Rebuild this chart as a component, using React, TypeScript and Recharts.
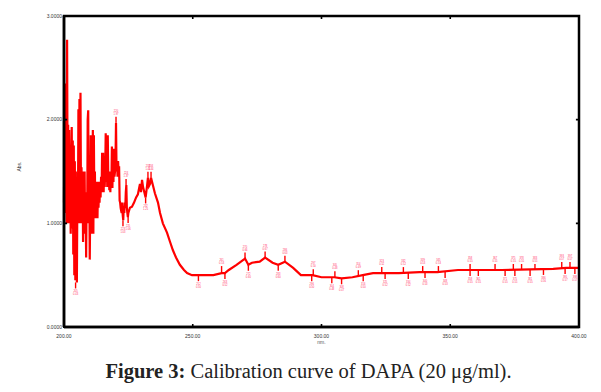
import React from 'react';
import { ComposedChart, Line, Scatter, XAxis, YAxis } from 'recharts';

const wavelengths = [
  200.0, 200.2, 200.4, 200.6, 200.8, 201.0, 201.2, 201.4, 201.6, 201.8, 202.0, 202.2, 202.4, 202.6, 202.8,
  203.0, 203.2, 203.4, 203.6, 203.8, 204.0, 204.2, 204.4, 204.6, 204.8, 205.0, 205.2, 205.4, 205.6, 205.8,
  206.0, 206.2, 206.4, 206.6, 206.8, 207.0, 207.2, 207.4, 207.6, 207.8, 208.0, 208.2, 208.4, 208.6, 208.8,
  209.0, 209.2, 209.4, 209.6, 209.8, 210.0, 210.2, 210.4, 210.6, 210.8, 211.0, 211.2, 211.4, 211.6, 211.8,
  212.0, 212.2, 212.4, 212.6, 212.8, 213.0, 213.2, 213.4, 213.6, 213.8, 214.0, 214.2, 214.4, 214.6, 214.8,
  215.0, 215.2, 215.4, 215.6, 215.8, 216.0, 216.2, 216.4, 216.6, 216.8, 217.0, 217.2, 217.4, 217.6, 217.8,
  218.0, 218.2, 218.4, 218.6, 218.8, 219.0, 219.2, 219.4, 219.6, 219.8, 220.0, 220.2, 220.4, 220.6, 220.8,
  221.0, 221.2, 221.4, 221.6, 221.8, 222.0, 222.2, 222.4, 222.6, 222.8, 223.0, 223.2, 223.4, 223.6, 223.8,
  224.0, 224.2, 224.4, 224.6, 224.8, 225.0,
  225.6, 226.4, 227.2, 228.0, 228.7, 229.5, 229.9, 230.3, 230.7,
  231.7, 232.2, 232.6, 233.0, 233.4, 233.8, 234.6, 235.3, 236.5, 237.3, 238.4, 240.0, 241.2, 242.3, 243.5,
  245.0, 246.6, 247.8, 249.7, 252.2, 254.0, 258.0, 261.2, 262.5, 264.0, 267.0, 270.3, 271.6, 273.0, 276.0,
  278.1, 281.0, 283.2, 285.8, 289.0, 292.0, 296.5, 300.0, 305.0, 307.8, 312.0, 316.0, 320.0, 330.0, 338.0,
  345.0, 353.0, 370.0, 390.0, 395.0, 400.0,
];
const absorbance = [
  1.2, 2.3, 1.1, 2.35, 1.5, 1.0, 2.77, 1.3, 1.95, 1.0, 1.9, 1.1, 1.7, 0.9, 1.6,
  1.93, 0.95, 1.8, 0.7, 1.75, 0.5, 1.6, 0.45, 1.5, 0.6, 0.43, 1.3, 1.0, 2.1, 1.1,
  2.2, 1.0, 2.26, 1.2, 1.54, 1.0, 1.5, 0.82, 1.45, 1.0, 1.5, 0.9, 1.2, 0.67, 1.3,
  1.0, 2.0, 2.09, 1.0, 1.6, 0.65, 1.2, 1.85, 0.9, 1.85, 1.0, 1.9, 0.9, 1.85, 1.1,
  1.5, 1.05, 1.4, 1.1, 1.35, 1.05, 1.4, 1.15, 1.35, 1.2, 1.4, 1.25, 1.45, 1.3, 1.68,
  1.35, 1.68, 1.3, 1.65, 1.35, 1.5, 1.87, 1.4, 1.85, 1.35, 1.85, 1.4, 1.5, 1.32, 1.48,
  1.3, 1.5, 1.35, 1.74, 1.34, 1.72, 1.4, 1.72, 1.45, 1.5, 1.6, 1.97, 1.5, 1.6, 1.45,
  1.6, 1.5, 1.55, 1.22, 1.2, 1.15, 1.12, 1.1, 1.2, 1.08, 1.03, 1.15, 1.1, 1.2, 1.15,
  1.3, 1.37, 1.15, 1.1, 1.06, 1.1,
  1.15, 1.16, 1.2, 1.25, 1.28, 1.38, 1.3, 1.42, 1.35,
  1.25, 1.35, 1.44, 1.36, 1.38, 1.44, 1.36, 1.29, 1.2, 1.1, 1.0, 0.91, 0.82, 0.74, 0.67,
  0.6, 0.55, 0.52, 0.5, 0.5, 0.5, 0.5, 0.52, 0.52, 0.55, 0.6, 0.66, 0.6, 0.62, 0.63,
  0.67, 0.62, 0.6, 0.63, 0.57, 0.5, 0.5, 0.48, 0.48, 0.47, 0.48, 0.5, 0.52, 0.52, 0.53,
  0.53, 0.55, 0.55, 0.56, 0.57, 0.57,
];

const peakNm = [220.2, 224.1, 232.6, 233.8, 261.2, 270.3, 278.1, 285.8, 296.8, 305.2, 314.3, 323.4, 331.8, 339.3, 345.4, 357.7, 367.4, 374.5, 377.7, 382.9, 393.3, 396.5];
const peakAbs = [1.97, 1.37, 1.44, 1.44, 0.53, 0.66, 0.67, 0.63, 0.5, 0.48, 0.49, 0.52, 0.52, 0.53, 0.53, 0.55, 0.55, 0.55, 0.55, 0.55, 0.57, 0.57];
const valleyNm = [204.5, 222.9, 224.9, 231.7, 252.2, 262.5, 271.6, 283.2, 296.2, 304.0, 307.8, 316.2, 324.7, 333.7, 340.2, 348.0, 357.7, 360.9, 371.3, 375.1, 381.0, 386.2, 394.6, 398.4];
const valleyAbs = [0.43, 1.03, 1.06, 1.25, 0.5, 0.52, 0.6, 0.6, 0.5, 0.48, 0.47, 0.5, 0.52, 0.52, 0.53, 0.53, 0.55, 0.55, 0.55, 0.55, 0.55, 0.56, 0.57, 0.57];

const xTicks = [200, 250, 300, 350, 400];
const yTicks = [0, 1, 2, 3];
const xTitle = 'nm.';
const yTitle = 'Abs.';
const caption = 'Calibration curve of DAPA (20 μg/ml).';

const X_MIN = 200;
const X_MAX = 400;
const Y_MIN = 0;
const Y_MAX = 3;
const tickLenX = 1.2;
const tickLenY = 0.03;

const lineData = wavelengths.map((x, i) => ({ x, y: absorbance[i] }));
const peaks = peakNm.map((x, i) => ({ x, y: peakAbs[i] }));
const valleys = valleyNm.map((x, i) => ({ x, y: valleyAbs[i] }));

const frameData = [
  { x: X_MIN, y: Y_MIN },
  { x: X_MAX, y: Y_MIN },
  { x: X_MAX, y: Y_MAX },
  { x: X_MIN, y: Y_MAX },
  { x: X_MIN, y: Y_MIN },
];
const innerX = xTicks.slice(1, -1);
const innerY = yTicks.slice(1, -1);
const tickMarkData: { x: number; y: number | null }[] = [];
innerX.forEach((t) => {
  tickMarkData.push({ x: t, y: Y_MIN }, { x: t, y: Y_MIN + tickLenY }, { x: t, y: null });
});
innerX.forEach((t) => {
  tickMarkData.push({ x: t, y: Y_MAX }, { x: t, y: Y_MAX - tickLenY }, { x: t, y: null });
});
const tickMarkLeft: { x: number; y: number | null }[] = [];
innerY.forEach((t) => {
  tickMarkLeft.push({ x: X_MIN, y: t }, { x: X_MIN + tickLenX, y: t }, { x: X_MIN + tickLenX, y: null });
});
const tickMarkRight: { x: number; y: number | null }[] = [];
innerY.forEach((t) => {
  tickMarkRight.push({ x: X_MAX - tickLenX, y: t }, { x: X_MAX, y: t }, { x: X_MAX, y: null });
});

const RED = '#ff0000';
const LBL = '#ff3366';
const INK = '#000000';

const CHART_W = 585;
const CHART_H = 340;
const M = { top: 8, right: 14, bottom: 0, left: 0 };
const Y_AXIS_W = 56;
const X_AXIS_H = 21;

const PeakMark = (props: any) => {
  const { cx, cy, payload } = props;
  if (cx == null || cy == null) return <g />;
  return (
    <g>
      <line x1={cx} y1={cy} x2={cx} y2={cy - 6} stroke={RED} strokeWidth={1.4} />
      <text x={cx} y={cy - 11} fontSize={2.6} fill={LBL} textAnchor="middle" fontFamily="Liberation Sans">{Math.round(payload.x)}</text>
      <text x={cx} y={cy - 8} fontSize={2.6} fill={LBL} textAnchor="middle" fontFamily="Liberation Sans">{payload.y.toFixed(2)}</text>
    </g>
  );
};

const ValleyMark = (props: any) => {
  const { cx, cy, payload } = props;
  if (cx == null || cy == null) return <g />;
  return (
    <g>
      <line x1={cx} y1={cy} x2={cx} y2={cy + 6} stroke={RED} strokeWidth={1.4} />
      <text x={cx} y={cy + 10} fontSize={2.6} fill={LBL} textAnchor="middle" fontFamily="Liberation Sans">{Math.round(payload.x)}</text>
      <text x={cx} y={cy + 13} fontSize={2.6} fill={LBL} textAnchor="middle" fontFamily="Liberation Sans">{payload.y.toFixed(2)}</text>
    </g>
  );
};

export default function App() {
  const plotLeft = M.left + Y_AXIS_W;
  const plotTop = M.top;
  const plotW = CHART_W - M.left - M.right - Y_AXIS_W;
  const plotH = CHART_H - M.top - M.bottom - X_AXIS_H;
  return (
    <div style={{ width: CHART_W }}>
      <div style={{ position: 'relative', width: CHART_W, height: CHART_H }}>
        <ComposedChart width={CHART_W} height={CHART_H} margin={M}>
          <XAxis
            type="number"
            dataKey="x"
            domain={[X_MIN, X_MAX]}
            ticks={xTicks}
            tickFormatter={(v: number) => v.toFixed(2)}
            tick={{ fontSize: 5, fill: '#333', fontFamily: 'Liberation Sans' }}
            tickLine={false}
            axisLine={{ stroke: INK, strokeWidth: 2.5 }}
            tickSize={3}
            tickMargin={4}
            height={X_AXIS_H}
            label={{ value: xTitle, position: 'insideBottom', offset: 4, fontSize: 5, fill: '#555', fontFamily: 'Liberation Sans' }}
          />
          <YAxis
            type="number"
            dataKey="y"
            domain={[Y_MIN, Y_MAX]}
            ticks={yTicks}
            tickFormatter={(v: number) => v.toFixed(4)}
            tick={{ fontSize: 5, fill: '#333', fontFamily: 'Liberation Sans' }}
            tickLine={false}
            axisLine={{ stroke: INK, strokeWidth: 2.5 }}
            tickSize={0}
            tickMargin={2}
            width={Y_AXIS_W}
            label={{ value: yTitle, angle: -90, position: 'insideLeft', offset: 11, fontSize: 5, fill: '#333', fontFamily: 'Liberation Sans' }}
          />
          <Line data={lineData} dataKey="y" type="linear" stroke={RED} strokeWidth={2.2} dot={false} isAnimationActive={false} />
          <Scatter data={peaks} dataKey="y" shape={PeakMark} isAnimationActive={false} />
          <Scatter data={valleys} dataKey="y" shape={ValleyMark} isAnimationActive={false} />
          <Line data={frameData} dataKey="y" type="linear" stroke={INK} strokeWidth={2.5} dot={false} isAnimationActive={false} />
          <Line data={tickMarkData} dataKey="y" type="linear" stroke={INK} strokeWidth={1.6} dot={false} connectNulls={false} isAnimationActive={false} />
          <Line data={tickMarkLeft} dataKey="y" type="linear" stroke={INK} strokeWidth={1.6} dot={false} connectNulls={false} isAnimationActive={false} />
          <Line data={tickMarkRight} dataKey="y" type="linear" stroke={INK} strokeWidth={1.6} dot={false} connectNulls={false} isAnimationActive={false} />
        </ComposedChart>
        <div
          style={{
            position: 'absolute',
            left: plotLeft - 1,
            top: plotTop - 1,
            width: plotW + 2,
            height: plotH + 2,
            border: `2px solid ${INK}`,
            boxSizing: 'border-box',
            pointerEvents: 'none',
          }}
        />
      </div>
      <div style={{ marginTop: 12, paddingLeft: 16, textAlign: 'center', fontFamily: '"Liberation Serif", serif', fontSize: 20.5, color: '#222', whiteSpace: 'nowrap' }}>
        <b>Figure 3:</b> {caption}
      </div>
    </div>
  );
}
